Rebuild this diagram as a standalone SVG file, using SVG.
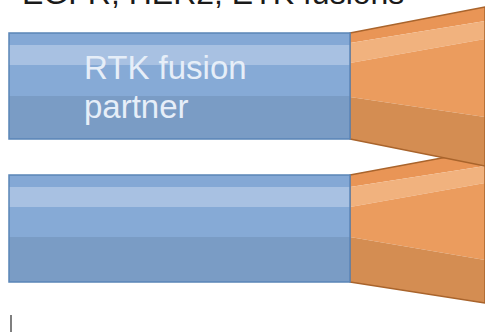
<svg xmlns="http://www.w3.org/2000/svg" width="485" height="332" viewBox="0 0 485 332">
  <style>
    .title { font-family: "Liberation Sans", Arial, sans-serif; font-size: 32px; fill: #1a1a1a; }
    .label { font-family: "Liberation Sans", Arial, sans-serif; font-size: 33px; fill: #e6eef8; }
    .b-top { fill: #84a8d5; }
    .b-light { fill: #a8c1e2; }
    .b-mid { fill: #86aad6; }
    .b-dark { fill: #7a9cc5; }
    .b-edge { fill: none; stroke: #5a85b7; stroke-width: 1.5; }
    .o-top { fill: #e99556; }
    .o-light { fill: #f1b27e; }
    .o-mid { fill: #eb9c5e; }
    .o-dark { fill: #d48d52; }
    .o-edge { fill: none; stroke: #a9642c; stroke-width: 1.5; stroke-linejoin: round; }
    .cursor { stroke: #555555; stroke-width: 1.5; }
  </style>

  <!-- heading, mostly above the top edge -->
  <g id="title">
    <text class="title" x="22" y="4">EGFR, HER2, ETK fusions</text>
  </g>

  <!-- lower kinase wedge (drawn first, the upper one overlaps it) -->
  <g id="kinase-bottom">
    <polygon class="o-top" points="350,175 485,150 485,166 350,187"/>
    <polygon class="o-light" points="350,187 485,166 485,183 350,207"/>
    <polygon class="o-mid" points="350,207 485,183 485,260 350,237"/>
    <polygon class="o-dark" points="350,237 485,260 485,303 350,282"/>
    <polygon class="o-edge" points="350,175 485,150 485,303 350,282"/>
  </g>

  <!-- upper kinase wedge -->
  <g id="kinase-top">
    <polygon class="o-top" points="350,33 485,7 485,21 350,43"/>
    <polygon class="o-light" points="350,43 485,21 485,39 350,63"/>
    <polygon class="o-mid" points="350,63 485,39 485,117 350,97"/>
    <polygon class="o-dark" points="350,97 485,117 485,166 350,139"/>
    <polygon class="o-edge" points="350,33 485,7 485,166 350,139"/>
  </g>

  <!-- upper partner bar -->
  <g id="partner-top">
    <rect class="b-top" x="9" y="33" width="341" height="12"/>
    <rect class="b-light" x="9" y="45" width="341" height="20"/>
    <rect class="b-mid" x="9" y="65" width="341" height="31"/>
    <rect class="b-dark" x="9" y="96" width="341" height="43"/>
    <rect class="b-edge" x="9" y="33" width="341" height="106"/>
    <text class="label" x="84" y="79">RTK fusion</text>
    <text class="label" x="84" y="118">partner</text>
  </g>

  <!-- lower partner bar -->
  <g id="partner-bottom">
    <rect class="b-top" x="9" y="175" width="341" height="12"/>
    <rect class="b-light" x="9" y="187" width="341" height="20"/>
    <rect class="b-mid" x="9" y="207" width="341" height="30"/>
    <rect class="b-dark" x="9" y="237" width="341" height="45"/>
    <rect class="b-edge" x="9" y="175" width="341" height="107"/>
  </g>

  <line class="cursor" x1="11" y1="315" x2="11" y2="332"/>
</svg>
